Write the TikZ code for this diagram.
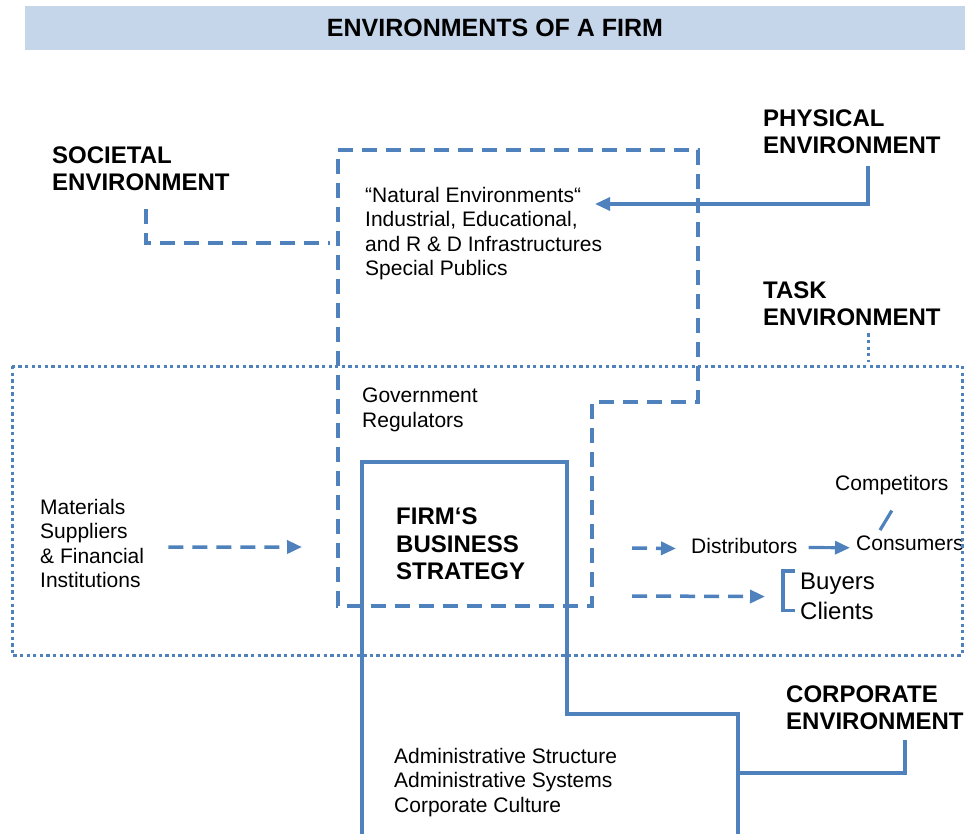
\documentclass[tikz,border=0pt]{standalone}
\usepackage{fontspec}
\setmainfont{Liberation Sans}
\usetikzlibrary{arrows.meta,positioning}
\definecolor{EnvBlue}{RGB}{79,129,189}
\definecolor{BarBlue}{RGB}{197,214,234}

\begin{document}
\begin{tikzpicture}[x=1pt,y=-1pt,
    txt/.style={inner sep=0pt,anchor=north west,align=left,font=\fontsize{21}{24.5}\selectfont},
    head/.style={inner sep=0pt,anchor=north west,align=left,font=\fontsize{24}{27}\selectfont\bfseries},
    solidline/.style={draw=EnvBlue,line width=3.2pt},
    dashline/.style={draw=EnvBlue,line width=3.5pt,dash pattern=on 15pt off 9pt},
    dotline/.style={draw=EnvBlue,line width=3pt,dash pattern=on 3.3pt off 3.3pt},
    arrowhd/.style={-{Triangle[length=15pt,width=13pt]}}]
    \useasboundingbox (0,0) rectangle (965,834);
    \node[fill=BarBlue,minimum width=940pt,minimum height=44pt,inner sep=0pt,font=\fontsize{25}{30}\selectfont\bfseries] (title) at (495,28) {ENVIRONMENTS OF A FIRM};

    \node[head] (soc) at (52,147) {SOCIETAL\\ENVIRONMENT};
    \node[head] (phy) at (763,110) {PHYSICAL\\ENVIRONMENT};
    \node[head] (task) at (763,282) {TASK\\ENVIRONMENT};
    \node[head] (corp) at (786,686) {CORPORATE\\ENVIRONMENT};

    \node[txt] (nat) at (365,187) {“Natural Environments“\\Industrial, Educational,\\and R \& D Infrastructures\\Special Publics};
    \node[txt] (gov) at (362,388) {Government\\Regulators};
    \node[txt] (mat) at (40,499) {Materials\\Suppliers\\\& Financial\\Institutions};
    \node[head,font=\fontsize{24}{27.5}\selectfont\bfseries] (firm) at (396,508) {FIRM‘S\\BUSINESS\\STRATEGY};
    \node[txt] (adm) at (394,748) {Administrative Structure\\Administrative Systems\\Corporate Culture};

    \node[txt,anchor=base west] (dist) at (691,553) {Distributors};
    \node[txt,anchor=base west] (cons) at (856,550) {Consumers};
    \node[txt,anchor=base west] (comp) at (835,490) {Competitors};
    \node[txt,font=\fontsize{24}{30}\selectfont] (buy) at (800,573) {Buyers\\Clients};

    \coordinate (natNW) at (338,150);
    \coordinate (natNE) at (698,150);
    \coordinate (natSE) at (592,606);
    \coordinate (natIn) at (595,204);
    \coordinate (socIn) at (330,243);
    \coordinate (tskNW) at (12,366);
    \coordinate (tskSE) at (962,655);
    \coordinate (crpNW) at (362,462);
    \coordinate (crpIn) at (738,773);
    \coordinate (dsrc1) at (632,548);
    \coordinate (dsrc2) at (632,596);

    \draw[dashline] (natNW) -- (natNE) -- (698,402) -- (natSE |- 0,402) -- (natSE) -- (natNW |- natSE) -- cycle;
    \draw[dotline] (tskNW) rectangle (tskSE);
    \draw[solidline] (crpNW |- 0,834) -- (crpNW) -- (567,462) -- (567,714) -- (738,714) -- (738,834);

    \draw[dashline] ([xshift=94pt,yshift=-18pt]soc.south west) |- (socIn);
    \draw[solidline,arrowhd] ([xshift=105pt,yshift=-12pt]phy.south west) |- (natIn);
    \draw[dotline] ([xshift=105pt,yshift=-7pt]task.south west) -- ++(0,29);
    \draw[solidline] ([xshift=119pt,yshift=-10pt]corp.south west) |- (crpIn);

    \draw[dashline,arrowhd] ([xshift=24pt,yshift=-3.5pt]mat.east) -- (302,547);
    \draw[dashline,arrowhd] (dsrc1) -- ([xshift=-15pt,yshift=-3pt]dist.west);
    \draw[solidline,arrowhd] ([xshift=11pt,yshift=-2pt]dist.east) -- ([xshift=-6pt,yshift=-5pt]cons.west);
    \draw[solidline] ([yshift=-16pt]comp.south) -- ([xshift=24pt,yshift=5pt]cons.north west);
    \draw[dashline,arrowhd] (dsrc2) -- ([xshift=-35pt]buy.west);
    \draw[solidline] ([xshift=-5pt,yshift=2pt]buy.north west) -- ++(-12,0) |- ([xshift=-5pt,yshift=10pt]buy.south west);
\end{tikzpicture}
\end{document}
